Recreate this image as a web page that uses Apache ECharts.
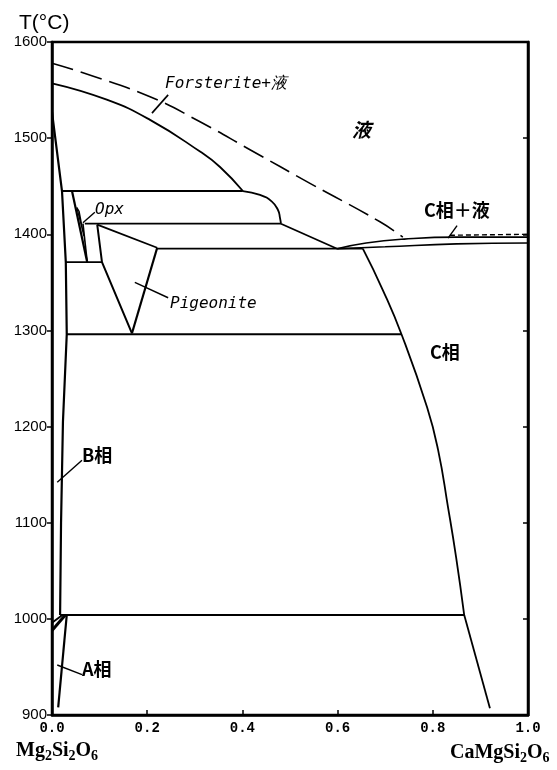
<!DOCTYPE html>
<html><head><meta charset="utf-8">
<script src="https://cdn.jsdelivr.net/npm/echarts@6/dist/echarts.min.js"></script>
<style>html,body{margin:0;padding:0;background:#fff}#c{width:557px;height:770px}</style>
</head><body><div id="c"></div>
<script>
// ---- axis ranges / ticks ----
const xMin = 0, xMax = 1.0, xStep = 0.2;
const yMin = 900, yMax = 1600, yStep = 100;

// ---- phase boundary lines (composition x, temperature T) ----
const liqDashed     = [[0.0,1578],[0.065,1568],[0.206,1543],[0.311,1517],[0.416,1488],[0.542,1453],[0.689,1413],[0.737,1397]];
const liqForsterite = [[0.0,1557],[0.115,1540],[0.206,1519],[0.311,1486],[0.353,1470],[0.401,1445]];
const liqKnee       = [[0.401,1445],[0.437,1441],[0.462,1434],[0.475,1425],[0.479,1417],[0.481,1411]];
const liqToEutectic = [[0.481,1411],[0.599,1385]];
const cLiquidus     = [[0.599,1385],[0.66,1391],[0.74,1395],[0.85,1397],[1.0,1397]];
const cSolidus      = [[0.599,1385],[0.70,1387],[0.85,1390],[1.0,1391]];
const cDashedTop    = [[0.836,1399],[1.0,1400]];
const cSolvusUpper  = [[0.653,1385],[0.695,1342],[0.735,1295],[0.788,1220],[0.811,1176],[0.832,1116],[0.849,1064],[0.866,1004]];
const cSolvusLower  = [[0.866,1004],[0.92,907]];
const bBoundary     = [[0.0,1527],[0.021,1445],[0.029,1371],[0.031,1296],[0.023,1205],[0.019,1100],[0.017,1004]];
const aBoundary     = [[0.031,1004],[0.013,908]];
const aWedge1       = [[0.0,988],[0.028,1004]];
const aWedge2       = [[0.0,996],[0.022,1004]];
const iso1445 = [[0.021,1445],[0.401,1445]];
const iso1411 = [[0.069,1411],[0.481,1411]];
const iso1385 = [[0.221,1385],[0.653,1385]];
const iso1371 = [[0.029,1371],[0.105,1371]];
const iso1296 = [[0.031,1296],[0.735,1296]];
const iso1004 = [[0.017,1004],[0.866,1004]];
const opxLeft  = [[0.042,1445],[0.074,1371]];
const opxRight = [[0.065,1411],[0.074,1371]];
const opxLens  = [[0.052,1428],[0.057,1424],[0.067,1398],[0.063,1400],[0.052,1428]];
const pigTop   = [[0.095,1410],[0.221,1386]];
const pigLeft  = [[0.095,1410],[0.105,1371],[0.168,1297]];
const pigRight = [[0.168,1297],[0.221,1386]];
// ---- label leader lines ----
const leadForst = [[0.21,1526],[0.244,1545]];
const leadOpx   = [[0.065,1412],[0.09,1423]];
const leadPig   = [[0.174,1350],[0.244,1334]];
const leadCL    = [[0.832,1396],[0.851,1409]];
const leadB     = [[0.011,1142],[0.063,1165]];
const leadA     = [[0.011,952],[0.063,942]];

const chart = echarts.init(document.getElementById('c'), null, {renderer:'canvas'});
function ln(data, o) {
  o = o || {};
  return {type:'line', data:data, showSymbol:false, symbol:'none', smooth:o.smooth||false,
    silent:true, animation:false, clip:false,
    lineStyle:{color:'#000', width:o.w||1.8, type:o.dash||'solid'}};
}
const series = [
  ln(liqDashed,{smooth:0.5,dash:[22,8],w:1.6}),
  ln(liqForsterite,{smooth:0.5}),
  ln(liqKnee,{smooth:0.5}),
  ln(liqToEutectic),
  ln(cLiquidus,{smooth:0.5,w:1.6}),
  ln(cSolidus,{smooth:0.5,w:1.6}),
  ln(cDashedTop,{dash:[5,3],w:1.4}),
  ln(cSolvusUpper,{smooth:0.5}),
  ln(cSolvusLower),
  ln(bBoundary,{w:2.2}),
  ln(aBoundary,{w:2.2}),
  ln(aWedge1,{w:3}),
  ln(aWedge2,{w:2}),
  ln(iso1445),ln(iso1411),ln(iso1385),ln(iso1371),ln(iso1296),ln(iso1004,{w:2}),
  ln(opxLeft,{w:2.2}),ln(opxRight,{w:1.6}),ln(opxLens,{w:1.2}),
  ln(pigTop),ln(pigLeft,{w:2}),ln(pigRight,{w:2.2}),
  ln(leadForst,{w:1.6}),ln(leadOpx,{w:1.4}),ln(leadPig,{w:1.4}),ln(leadCL,{w:1.4}),ln(leadB,{w:1.4}),ln(leadA,{w:1.4})
];
const latinIt = 'italic 16px "DejaVu Sans Mono"';
const cjk = '"Noto Sans CJK JP"';
chart.setOption({
  animation:false,
  backgroundColor:'#fff',
  grid:{left:52,right:29,top:42,bottom:55,show:true,borderColor:'#000',borderWidth:2.5},
  xAxis:[{type:'value',min:xMin,max:xMax,interval:xStep,
    axisLine:{show:true,lineStyle:{color:'#000',width:2.5}},
    axisTick:{show:true,inside:true,length:5,lineStyle:{color:'#000',width:1.5}},
    splitLine:{show:false},
    axisLabel:{margin:6,color:'#000',fontFamily:'Liberation Mono',fontSize:14,fontWeight:'bold',
      formatter:v=>v.toFixed(1)}}],
  yAxis:[{type:'value',min:yMin,max:yMax,interval:yStep,position:'left',
    axisLine:{show:true,lineStyle:{color:'#000',width:2.5}},
    axisTick:{show:true,inside:false,length:5,lineStyle:{color:'#000',width:1.5}},
    splitLine:{show:false},
    axisLabel:{margin:5,color:'#000',fontFamily:'Liberation Sans',fontSize:15,formatter:v=>String(v)}},
   {type:'value',min:yMin,max:yMax,interval:yStep,position:'right',
    axisLine:{show:true,lineStyle:{color:'#000',width:2.5}},
    axisTick:{show:true,inside:true,length:5,lineStyle:{color:'#000',width:1.5}},
    splitLine:{show:false},axisLabel:{show:false}}],
  title:[
    {text:'T(°C)',left:14,top:8,textStyle:{fontFamily:'Liberation Sans',fontSize:21,fontWeight:'normal',color:'#000'}},
    {text:'{a|Mg}{s|2}{a|Si}{s|2}{a|O}{s|6}',left:11,top:734,
      textStyle:{rich:{a:{fontFamily:'Liberation Serif',fontSize:20,color:'#000'},
                       s:{fontFamily:'Liberation Serif',fontSize:14,color:'#000',padding:[10,0,0,0]}}}},
    {text:'{a|CaMgSi}{s|2}{a|O}{s|6}',left:445,top:736,
      textStyle:{rich:{a:{fontFamily:'Liberation Serif',fontSize:20,color:'#000'},
                       s:{fontFamily:'Liberation Serif',fontSize:14,color:'#000',padding:[10,0,0,0]}}}}
  ],
  graphic:[
    {type:'text',left:165,top:76,style:{text:'Forsterite+液',font:latinIt,fill:'#000'}},
    {type:'text',left:95,top:202,style:{text:'Opx',font:latinIt,fill:'#000'}},
    {type:'text',left:170,top:296,style:{text:'Pigeonite',font:latinIt,fill:'#000'}},
    {type:'text',left:352,top:120,style:{text:'液',font:'italic bold 19px '+cjk,fill:'#000'}},
    {type:'text',left:424,top:201,style:{text:'C相＋液',font:'bold 18px '+cjk,fill:'#000'}},
    {type:'text',left:430,top:343,style:{text:'C相',font:'bold 18px '+cjk,fill:'#000'}},
    {type:'text',left:82,top:446,style:{text:'B相',font:'bold 18px '+cjk,fill:'#000'}},
    {type:'text',left:82,top:660,style:{text:'A相',font:'bold 18px '+cjk,fill:'#000'}}
  ],
  series:series
});
</script></body></html>
